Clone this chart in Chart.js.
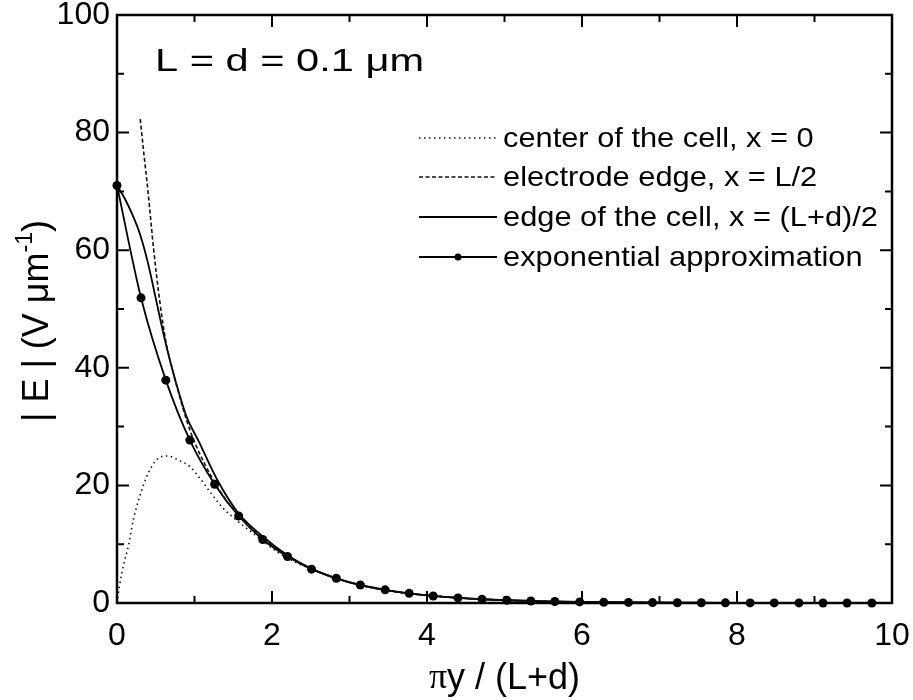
<!DOCTYPE html>
<html>
<head>
<meta charset="utf-8">
<script src="https://cdn.jsdelivr.net/npm/chart.js@4.4.0/dist/chart.umd.min.js"></script>
<style>
  body { margin: 0; background: #fff; }
  #wrap { width: 913px; height: 700px; }
</style>
</head>
<body>
<div id="wrap"><canvas id="graphCanvas" width="913" height="700"></canvas></div>
<script>
// center of the cell, x = 0 (dotted)
var centerX = [0, 0.03, 0.08, 0.15, 0.21, 0.3, 0.4, 0.53, 0.65, 0.81, 0.94, 1.07, 1.2, 1.37, 1.54, 1.8, 2.1, 2.5, 3, 3.5, 4, 5, 6, 7, 8, 9, 10];
var centerY = [0, 2.8, 6.2, 9.9, 14.1, 18.4, 22, 24.6, 25, 24.2, 23.2, 21.2, 18.9, 16.1, 14.1, 11.4, 8.4, 5.8, 3.5, 2.1, 1.3, 0.48, 0.18, 0.065, 0.024, 0.009, 0.003];

// electrode edge, x = L/2 (dashed)
var electrodeX = [0.3, 0.35, 0.4, 0.47, 0.55, 0.63, 0.72, 0.8, 0.9, 1.0, 1.27, 1.56, 1.9, 2.2, 2.5, 3, 3.5, 4, 5, 6, 7, 8, 9, 10];
var electrodeY = [82.3, 76, 70, 60.5, 51.5, 44.5, 39.5, 35.5, 31, 27.4, 20.3, 15, 10.9, 8, 5.85, 3.5, 2.1, 1.3, 0.48, 0.18, 0.065, 0.024, 0.009, 0.003];

// edge of the cell, x = (L+d)/2 (solid)
var edgeX = [0, 0.1, 0.2, 0.3, 0.4, 0.5, 0.6, 0.7, 0.8, 0.9, 1.05, 1.3, 1.56, 1.9, 2.2, 2.5, 3, 3.5, 4, 4.5, 5, 5.5, 6, 7, 8, 9, 10];
var edgeY = [71, 68.8, 66, 62.6, 57.8, 51.8, 45.8, 40.4, 35.7, 31.6, 27.6, 20.8, 15.4, 11.1, 8.1, 5.9, 3.5, 2.1, 1.3, 0.8, 0.48, 0.29, 0.18, 0.065, 0.024, 0.009, 0.003];

// exponential approximation (solid with dots)
var expX = [0, 0.31, 0.63, 0.94, 1.26, 1.57, 1.88, 2.20, 2.51, 2.83, 3.14, 3.46, 3.77, 4.08, 4.40, 4.71, 5.03, 5.34, 5.65, 5.97, 6.28, 6.60, 6.91, 7.23, 7.54, 7.85, 8.17, 8.48, 8.80, 9.11, 9.42, 9.74];
var expY = [71, 51.9, 37.9, 27.7, 20.2, 14.8, 10.8, 7.9, 5.75, 4.2, 3.07, 2.24, 1.64, 1.2, 0.87, 0.64, 0.47, 0.34, 0.25, 0.18, 0.13, 0.1, 0.07, 0.05, 0.04, 0.03, 0.02, 0.015, 0.01, 0.008, 0.006, 0.004];

var legendLabels = ['center of the cell, x = 0', 'electrode edge, x = L/2', 'edge of the cell, x = (L+d)/2', 'exponential approximation'];

var xMajor = [0, 2, 4, 6, 8, 10];
var xMinor = [1, 3, 5, 7, 9];
var yMajor = [0, 20, 40, 60, 80, 100];
var yMinor = [10, 30, 50, 70, 90];

var FONT = '"Liberation Sans", Arial, sans-serif';

function pts(xs, ys) {
	var out = [];
	for (var i = 0; i < xs.length; i++) out.push({x: xs[i], y: ys[i]});
	return out;
}

// frame with inward ticks, like the original plot
var framePlugin = {
	id: 'frame',
	afterDatasetsDraw: function (chart) {
		var ctx = chart.ctx, a = chart.chartArea;
		var xs = chart.scales.x, ys = chart.scales.y;
		ctx.save();
		ctx.strokeStyle = '#000';
		ctx.lineWidth = 2.5;
		ctx.strokeRect(a.left, a.top, a.right - a.left, a.bottom - a.top);
		ctx.lineWidth = 2;
		function tx(v, len) {
			var p = xs.getPixelForValue(v);
			ctx.beginPath();
			ctx.moveTo(p, a.bottom); ctx.lineTo(p, a.bottom - len);
			ctx.moveTo(p, a.top); ctx.lineTo(p, a.top + len);
			ctx.stroke();
		}
		function ty(v, len) {
			var p = ys.getPixelForValue(v);
			ctx.beginPath();
			ctx.moveTo(a.left, p); ctx.lineTo(a.left + len, p);
			ctx.moveTo(a.right, p); ctx.lineTo(a.right - len, p);
			ctx.stroke();
		}
		xMajor.forEach(function (v) { tx(v, 12); });
		xMinor.forEach(function (v) { tx(v, 7); });
		yMajor.forEach(function (v) { ty(v, 12); });
		yMinor.forEach(function (v) { ty(v, 7); });
		ctx.restore();
	}
};

// titles, annotation and legend inside the plot
var textPlugin = {
	id: 'texts',
	afterDraw: function (chart) {
		var ctx = chart.ctx, a = chart.chartArea;
		ctx.save();
		ctx.fillStyle = '#000';
		ctx.strokeStyle = '#000';

		// annotation (the original lettering is wide)
		ctx.save();
		ctx.translate(155, 62);
		ctx.scale(1.3, 1);
		ctx.font = '32px ' + FONT;
		ctx.textAlign = 'left';
		ctx.textBaseline = 'middle';
		ctx.fillText('L = d = 0.1 \u03bcm', 0, 0);
		ctx.restore();

		// x title
		ctx.textBaseline = 'middle';
		ctx.font = '36px "Liberation Serif", serif';
		var piW = ctx.measureText('\u03c0').width;
		ctx.font = '36px ' + FONT;
		var rest = 'y / (L+d)';
		var restW = ctx.measureText(rest).width;
		var cx = (a.left + a.right) / 2 - (piW + restW) / 2;
		ctx.textAlign = 'left';
		ctx.font = '36px "Liberation Serif", serif';
		ctx.fillText('\u03c0', cx, 679);
		ctx.font = '36px ' + FONT;
		ctx.fillText(rest, cx + piW, 679);

		// y title, rotated, with superscript
		ctx.translate(38, 321);
		ctx.rotate(-Math.PI / 2);
		ctx.font = '36px ' + FONT;
		var p1 = '| E | (V \u03bcm';
		var w1 = ctx.measureText(p1).width;
		ctx.font = '23px ' + FONT;
		var w2 = ctx.measureText('-1').width;
		ctx.font = '36px ' + FONT;
		var w3 = ctx.measureText(')').width;
		var sx = -(w1 + w2 + w3) / 2;
		ctx.fillText(p1, sx, 0);
		ctx.font = '23px ' + FONT;
		ctx.fillText('-1', sx + w1, -12);
		ctx.font = '36px ' + FONT;
		ctx.fillText(')', sx + w1 + w2, 0);
		ctx.restore();

		// legend
		ctx.save();
		var rows = [138, 177, 217, 257];
		var x0 = 419, x1 = 497;
		var ds = chart.data.datasets;
		for (var i = 0; i < rows.length; i++) {
			var d = ds[i];
			ctx.strokeStyle = d.borderColor;
			ctx.lineWidth = d.borderWidth;
			ctx.setLineDash(d.borderDash || []);
			ctx.beginPath();
			ctx.moveTo(x0, rows[i]);
			ctx.lineTo(x1, rows[i]);
			ctx.stroke();
			ctx.setLineDash([]);
			if (d.pointRadius > 0) {
				ctx.fillStyle = '#000';
				ctx.beginPath();
				ctx.arc((x0 + x1) / 2, rows[i], 3.5, 0, Math.PI * 2);
				ctx.fill();
			}
			ctx.save();
			ctx.translate(503, rows[i] + 1);
			ctx.scale(1.1, 1);
			ctx.fillStyle = '#000';
			ctx.font = '28px ' + FONT;
			ctx.textAlign = 'left';
			ctx.textBaseline = 'middle';
			ctx.fillText(legendLabels[i], 0, 0);
			ctx.restore();
		}
		ctx.restore();
	}
};

var chartdata = {
	datasets: [
		{
			label: legendLabels[0],
			data: pts(centerX, centerY),
			showLine: true,
			borderColor: '#111',
			borderWidth: 1.6,
			borderDash: [1.5, 3.5],
			pointRadius: 0,
			cubicInterpolationMode: 'monotone',
			clip: 8
		},
		{
			label: legendLabels[1],
			data: pts(electrodeX, electrodeY),
			showLine: true,
			borderColor: '#111',
			borderWidth: 1.6,
			borderDash: [4, 2.5],
			pointRadius: 0,
			cubicInterpolationMode: 'monotone',
			clip: 8
		},
		{
			label: legendLabels[2],
			data: pts(edgeX, edgeY),
			showLine: true,
			borderColor: '#000',
			borderWidth: 1.8,
			pointRadius: 0,
			cubicInterpolationMode: 'monotone',
			clip: 8
		},
		{
			label: legendLabels[3],
			data: pts(expX, expY),
			showLine: true,
			borderColor: '#000',
			borderWidth: 1.8,
			pointRadius: 4.5,
			pointBackgroundColor: '#000',
			pointBorderColor: '#000',
			pointBorderWidth: 0,
			cubicInterpolationMode: 'monotone',
			clip: 8
		}
	]
};

var graphTarget = document.getElementById('graphCanvas');

var chart = new Chart(graphTarget, {
	type: 'scatter',
	data: chartdata,
	plugins: [framePlugin, textPlugin],
	options: {
		responsive: false,
		animation: false,
		layout: { padding: { left: 0, top: 15, right: 21, bottom: 0 } },
		plugins: {
			legend: { display: false },
			tooltip: { enabled: false }
		},
		scales: {
			x: {
				type: 'linear',
				min: 0,
				max: 10,
				grid: { display: false, drawTicks: false },
				border: { display: false },
				ticks: {
					stepSize: 2,
					padding: 14,
					color: '#000',
					font: { family: FONT, size: 32 },
					maxRotation: 0
				},
				afterFit: function (s) {
					s.height = 97;
					s.paddingLeft = 0;
					s.paddingRight = 0;
				}
			},
			y: {
				type: 'linear',
				min: 0,
				max: 100,
				grid: { display: false, drawTicks: false },
				border: { display: false },
				ticks: {
					stepSize: 20,
					padding: 7,
					color: '#000',
					font: { family: FONT, size: 32 }
				},
				afterFit: function (s) {
					s.width = 117;
					s.paddingTop = 0;
					s.paddingBottom = 0;
				}
			}
		}
	}
});
</script>
</body>
</html>
